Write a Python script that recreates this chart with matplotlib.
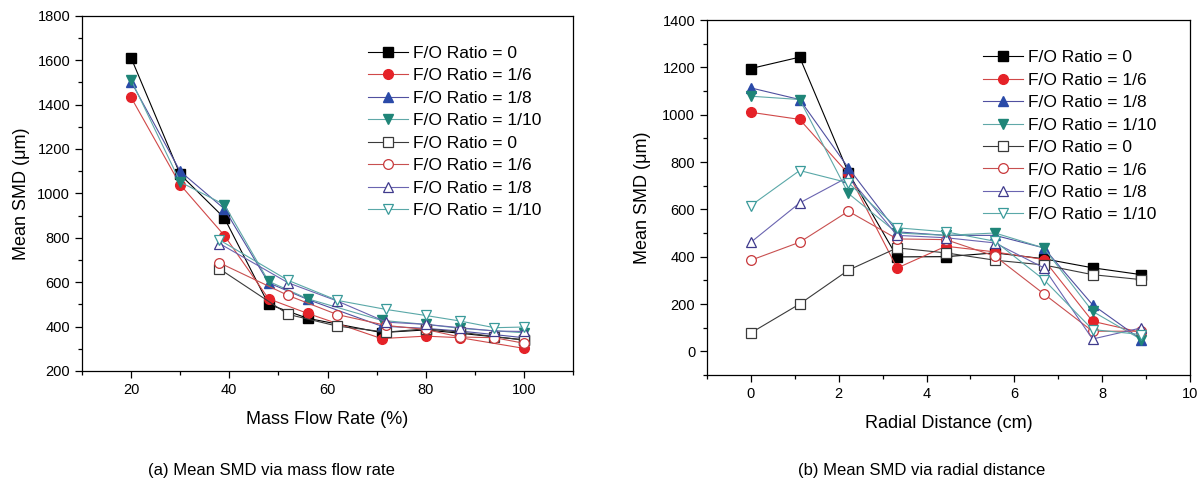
import numpy as np
import matplotlib
matplotlib.use('Agg')
from matplotlib import pyplot as plt
from matplotlib.ticker import MultipleLocator

plt.rcParams['font.family'] = ['Liberation Sans', 'DejaVu Sans']

labels = ['F/O Ratio = 0', 'F/O Ratio = 1/6', 'F/O Ratio = 1/8', 'F/O Ratio = 1/10']

# (a) mean SMD vs mass flow rate
flow_filled = [20, 30, 39, 48, 56, 71, 80, 87, 100]
smd_a_0 = [1610, 1085, 889, 500, 437, 373, 385, 370, 340]
smd_a_6 = [1432, 1039, 810, 525, 459, 346, 357, 350, 302]
smd_a_8 = [1503, 1099, 930, 597, 522, 402, 392, 380, 350]
smd_a_10 = [1511, 1051, 949, 604, 525, 428, 410, 392, 372]

flow_open = [38, 52, 62, 72, 80, 87, 94, 100]
smd_a_0o = [660, 455, 402, 375, 390, 375, 355, 340]
smd_a_6o = [687, 540, 454, 405, 387, 353, 350, 325]
smd_a_8o = [774, 597, 515, 420, 410, 395, 380, 378]
smd_a_10o = [790, 608, 518, 477, 450, 425, 395, 398]

# (b) mean SMD vs radial distance
radial = [0, 1.11, 2.22, 3.33, 4.44, 5.56, 6.67, 7.78, 8.89]
smd_b_0 = [1195, 1243, 755, 399, 400, 416, 391, 353, 324]
smd_b_6 = [1010, 980, 750, 352, 444, 420, 388, 127, 80]
smd_b_8 = [1113, 1064, 775, 505, 490, 490, 437, 197, 50]
smd_b_10 = [1078, 1064, 667, 500, 490, 500, 437, 169, 50]
smd_b_0o = [78, 200, 343, 437, 416, 385, 365, 324, 303]
smd_b_6o = [385, 461, 592, 475, 472, 402, 243, 85, 85]
smd_b_8o = [461, 627, 737, 490, 480, 458, 353, 52, 99]
smd_b_10o = [616, 764, 712, 522, 505, 465, 303, 92, 71]

# marker, face colour, line colour
styles_filled = [('s', '#000000', '#000000'), ('o', '#e52228', '#d04848'),
                 ('^', '#2a4aa8', '#5050a0'), ('v', '#1f8578', '#60a8a8')]
styles_open = [('s', '#3a3a3a', '#3a3a3a'), ('o', '#c8383b', '#c85050'),
               ('^', '#3f3a8c', '#6a64b0'), ('v', '#3a9a9a', '#5aa8a8')]

W, H = 1198, 483
fig = plt.figure(figsize=(W / 100, H / 100), dpi=100)


def box(l, r, t, b):
    return [l / W, 1 - b / H, (r - l) / W, (b - t) / H]


ax1 = fig.add_axes(box(82, 573, 15.7, 371))
ax2 = fig.add_axes(box(707, 1190, 20, 375))


def draw(ax, xf, filled, xo, opened):
    for ys, (m, fc, lc), lab in zip(filled, styles_filled, labels):
        ax.plot(xf, ys, marker=m, color=lc, mfc=fc, mec=fc, lw=0.8, ms=7, label=lab)
    for ys, (m, ec, lc), lab in zip(opened, styles_open, labels):
        ax.plot(xo, ys, marker=m, color=lc, mfc='white', mec=ec, mew=0.9, lw=0.8, ms=7, label=lab)
    ax.tick_params(which='both', direction='out', top=False, right=False, labelsize=10.5)
    ax.tick_params(which='major', length=5, width=0.9)
    ax.tick_params(which='minor', length=3, width=0.9)
    for s in ax.spines.values():
        s.set_linewidth(0.9)
    ax.set_ylabel('Mean SMD (\u03bcm)', fontsize=13)


leg = dict(loc='upper left', frameon=False, fontsize=12.5, handlelength=2.3,
           handletextpad=0.3, labelspacing=0.42, borderpad=0, borderaxespad=0)

draw(ax1, flow_filled, [smd_a_0, smd_a_6, smd_a_8, smd_a_10],
     flow_open, [smd_a_0o, smd_a_6o, smd_a_8o, smd_a_10o])
ax1.set_xlim(10, 110)
ax1.set_ylim(200, 1800)
ax1.xaxis.set_major_locator(MultipleLocator(20))
ax1.xaxis.set_minor_locator(MultipleLocator(10))
ax1.yaxis.set_major_locator(MultipleLocator(200))
ax1.yaxis.set_minor_locator(MultipleLocator(100))
ax1.set_xlabel('Mass Flow Rate (%)', fontsize=13, labelpad=10)
ax1.yaxis.set_label_coords(-0.106, 0.5)
ax1.legend(bbox_to_anchor=(0.582, 0.915), **leg)

draw(ax2, radial, [smd_b_0, smd_b_6, smd_b_8, smd_b_10],
     radial, [smd_b_0o, smd_b_6o, smd_b_8o, smd_b_10o])
ax2.set_xlim(-1, 10)
ax2.set_ylim(-100, 1400)
ax2.xaxis.set_major_locator(MultipleLocator(2))
ax2.xaxis.set_minor_locator(MultipleLocator(1))
ax2.yaxis.set_major_locator(MultipleLocator(200))
ax2.yaxis.set_minor_locator(MultipleLocator(100))
ax2.set_xlabel('Radial Distance (cm)', fontsize=13, labelpad=10)
ax2.yaxis.set_label_coords(-0.116, 0.5)
ax2.legend(bbox_to_anchor=(0.572, 0.915), **leg)

cap = dict(fontsize=12, ha='center', va='center')
fig.text(271 / W, 1 - 470 / H, '(a) Mean SMD via mass flow rate', **cap)
fig.text(922 / W, 1 - 470 / H, '(b) Mean SMD via radial distance', **cap)

fig.savefig('out.png', dpi=100)
